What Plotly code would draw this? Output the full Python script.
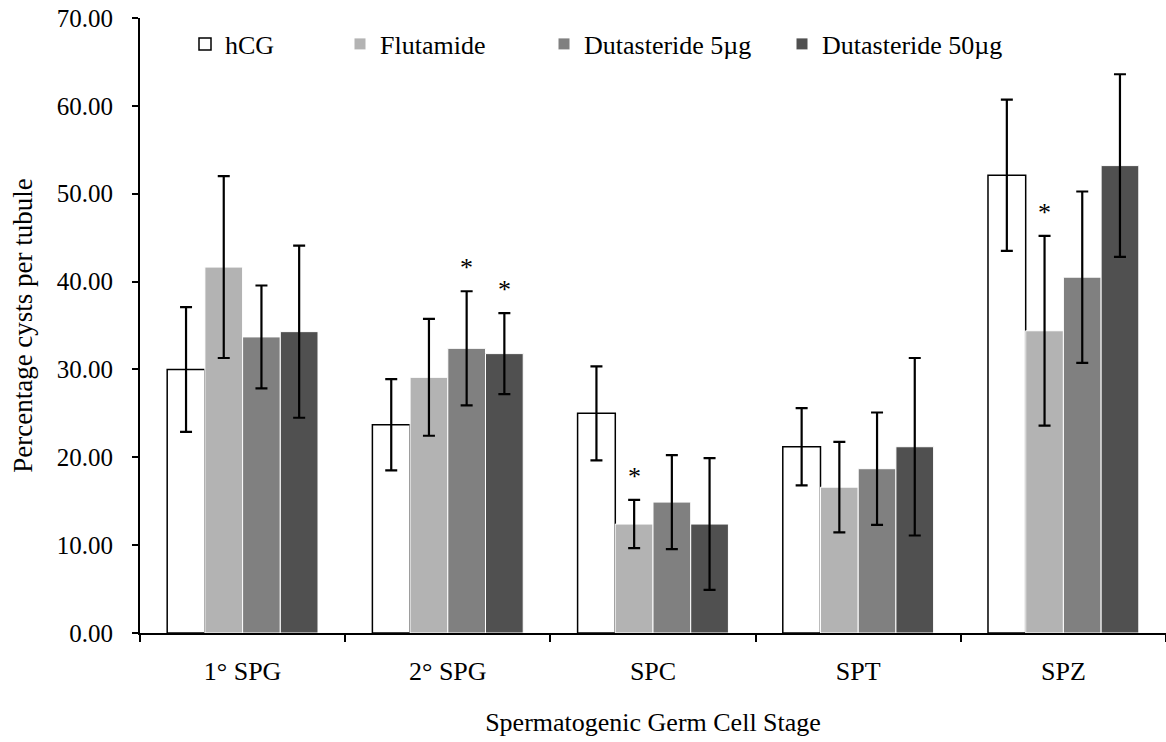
import plotly.graph_objects as go

categories = ["1° SPG", "2° SPG", "SPC", "SPT", "SPZ"]
series_names = ["hCG", "Flutamide", "Dutasteride 5µg", "Dutasteride 50µg"]

hcg = [30.0, 23.7, 25.0, 21.2, 52.1]
hcg_err = [7.1, 5.2, 5.35, 4.4, 8.6]
flutamide = [41.65, 29.1, 12.4, 16.6, 34.4]
flutamide_err = [10.35, 6.65, 2.75, 5.15, 10.8]
dut5 = [33.7, 32.4, 14.9, 18.7, 40.5]
dut5_err = [5.85, 6.5, 5.35, 6.4, 9.75]
dut50 = [34.3, 31.8, 12.4, 21.2, 53.2]
dut50_err = [9.8, 4.6, 7.5, 10.1, 10.4]

# significance markers: (category index, series index)
stars = [(1, 2), (1, 3), (2, 1), (4, 1)]

values = [hcg, flutamide, dut5, dut50]
errors = [hcg_err, flutamide_err, dut5_err, dut50_err]
fills = ["#ffffff", "#b3b3b3", "#808080", "#505050"]
lines = ["#000000", "#ffffff", "#ffffff", "#ffffff"]
line_w = [1.5, 1, 1, 1]

FONT = "Liberation Serif"
W, H = 1166, 742
ML, MR, MT, MB = 140, 0, 18, 109
BARGAP = 0.265

fig = go.Figure()
legend_px = [185, 340, 544, 782]
for i, name in enumerate(series_names):
    lg = "legend" if i == 0 else f"legend{i+1}"
    fig.add_trace(go.Bar(
        name=name, x=categories, y=values[i],
        marker=dict(color=fills[i], line=dict(color=lines[i], width=line_w[i])),
        error_y=dict(type="data", array=errors[i], color="black", thickness=2.2, width=6),
        legend=lg,
    ))

plot_w = W - ML - MR
plot_h = H - MT - MB
slot = plot_w / len(categories) * (1 - BARGAP) / len(series_names)
annotations = []
for ci, si in stars:
    annotations.append(dict(
        x=categories[ci], y=values[si][ci] + errors[si][ci],
        xref="x", yref="y", text="*", showarrow=False,
        yanchor="bottom", xanchor="center",
        xshift=(si - 1.5) * slot, yshift=7,
        font=dict(family=FONT, size=26, color="black"),
    ))

legends = {}
for i in range(len(series_names)):
    key = "legend" if i == 0 else f"legend{i+1}"
    legends[key] = dict(
        x=(legend_px[i] - ML) / plot_w, y=1 - 26 / plot_h, xanchor="left", yanchor="middle",
        orientation="h", bgcolor="rgba(0,0,0,0)",
        font=dict(family=FONT, size=26, color="black"),
    )

fig.update_layout(
    width=W, height=H,
    margin=dict(l=ML, r=MR, t=MT, b=MB, pad=0),
    paper_bgcolor="white", plot_bgcolor="white",
    barmode="group", bargap=BARGAP, bargroupgap=0.0,
    font=dict(family=FONT, size=26, color="black"),
    annotations=annotations,
    xaxis=dict(
        automargin=False,
        showline=True, linecolor="black", linewidth=2,
        ticks="outside", tickson="boundaries", ticklen=7, tickwidth=2, tickcolor="black",
        showgrid=False, zeroline=False,
        tickfont=dict(family=FONT, size=26, color="black"),
        ticklabelstandoff=14,
        title=dict(text="Spermatogenic Germ Cell Stage", font=dict(family=FONT, size=26, color="black"), standoff=28),
    ),
    yaxis=dict(
        automargin=False,
        range=[0, 70], dtick=10, tickformat=".2f",
        showline=True, linecolor="black", linewidth=2,
        ticks="outside", ticklen=6, tickwidth=2, tickcolor="black",
        showgrid=False, zeroline=False,
        tickfont=dict(family=FONT, size=25, color="black"),
        ticklabelstandoff=14,
        title=dict(text="Percentage cysts per tubule", font=dict(family=FONT, size=27, color="black"), standoff=16),
    ),
    showlegend=True,
    **legends,
)

fig.write_html(
    "out.html",
    config={"displayModeBar": False},
    post_script="document.body.style.margin='0px';",
)
